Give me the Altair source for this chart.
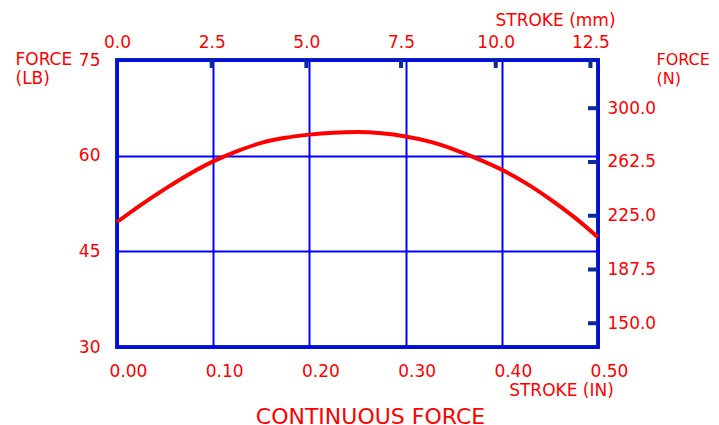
import altair as alt
import pandas as pd

# Stroke in inches and continuous force in pounds
stroke_in = [0.000, 0.025, 0.050, 0.075, 0.100, 0.125, 0.150, 0.175, 0.200, 0.225,
             0.250, 0.275, 0.300, 0.325, 0.350, 0.375, 0.400, 0.425, 0.450, 0.475, 0.500]
force_lb = [49.6, 52.3, 54.8, 57.1, 59.1, 60.7, 62.0, 62.8, 63.3, 63.6,
            63.7, 63.5, 63.0, 62.2, 61.0, 59.5, 57.8, 55.7, 53.2, 50.4, 47.2]

in_ticks = [0.0, 0.1, 0.2, 0.3, 0.4, 0.5]
lb_ticks = [30, 45, 60, 75]
mm_ticks = [0.0, 2.5, 5.0, 7.5, 10.0, 12.5]
n_ticks = [150.0, 187.5, 225.0, 262.5, 300.0]

LB_TO_N = 4.44822
IN_TO_MM = 25.4

RED = "#ff0000"
GRID = "#0000ff"
FRAME = "#0b2a9e"
FONT = "DejaVu Sans"

df = pd.DataFrame({"stroke": stroke_in, "force": force_lb})
df_mm = pd.DataFrame({"mm": [v for v in mm_ticks if v > 0]})
df_n = pd.DataFrame({"n": n_ticks})

x_dom = [0, 0.5]
y_dom = [30, 75]

line = alt.Chart(df).mark_line(color=RED, strokeWidth=4, interpolate="monotone").encode(
    x=alt.X("stroke:Q", scale=alt.Scale(domain=x_dom, nice=False, zero=False),
            axis=alt.Axis(orient="bottom", values=in_ticks, format=".2f", grid=True,
                          gridColor=GRID, gridWidth=2, ticks=False, domain=False,
                          labelOffset=11, labelPadding=16, labelFlush=False,
                          title="STROKE (IN)", titleX=444, titleY=43,
                          titleAlign="center", titleBaseline="middle", titleAngle=0)),
    y=alt.Y("force:Q", scale=alt.Scale(domain=y_dom, nice=False, zero=False),
            axis=alt.Axis(orient="left", values=lb_ticks, format="d", grid=True,
                          gridColor=GRID, gridWidth=2, ticks=False, domain=False,
                          labelPadding=17, labelBaseline="middle", labelFlush=False,
                          title=["FORCE", "(LB)"], titleX=-102, titleY=-9,
                          titleAlign="left", titleBaseline="top", titleAngle=0,
                          titleLineHeight=19)),
)

top_ticks = alt.Chart(df_mm).mark_rule(color=FRAME, strokeWidth=4).encode(
    x=alt.X("mm:Q", scale=alt.Scale(domain=[0, 0.5 * IN_TO_MM], nice=False, zero=False),
            axis=alt.Axis(orient="top", values=mm_ticks, format=".1f", grid=False,
                          ticks=False, domain=False, labelPadding=9, labelFlush=False,
                          title="STROKE (mm)", titleX=438, titleY=-40,
                          titleAlign="center", titleBaseline="middle", titleAngle=0)),
    y=alt.value(0),
    y2=alt.value(8),
)

right_ticks = alt.Chart(df_n).mark_rule(color=FRAME, strokeWidth=4).encode(
    y=alt.Y("n:Q", scale=alt.Scale(domain=[30 * LB_TO_N, 75 * LB_TO_N], nice=False, zero=False),
            axis=alt.Axis(orient="right", values=n_ticks, format=".1f", grid=False,
                          ticks=False, domain=False, labelPadding=9, labelBaseline="middle",
                          labelFlush=False,
                          title=["FORCE", "(N)"], titleX=58, titleY=-9, titleFontSize=16,
                          titleAlign="left", titleBaseline="top", titleAngle=0,
                          titleLineHeight=19)),
    x=alt.value(471),
    x2=alt.value(481),
)

chart = alt.layer(line, top_ticks, right_ticks).resolve_scale(
    x="independent", y="independent"
).properties(
    width=481,
    height=287,
    background="white",
    autosize=alt.AutoSizeParams(type="none"),
    padding={"left": 109, "top": 52, "right": 113, "bottom": 77},
    title=alt.TitleParams("CONTINUOUS FORCE", orient="bottom", fontSize=22,
                          font=FONT, fontWeight="normal", color=RED,
                          anchor="middle", dx=13, offset=9),
).configure_view(
    stroke=FRAME, strokeWidth=4
).configure_axis(
    labelFont=FONT, labelFontSize=17, labelColor=RED,
    titleFont=FONT, titleFontSize=17, titleColor=RED, titleFontWeight="normal",
)

chart.save("out.html", embed_options={"renderer": "svg", "actions": False})
